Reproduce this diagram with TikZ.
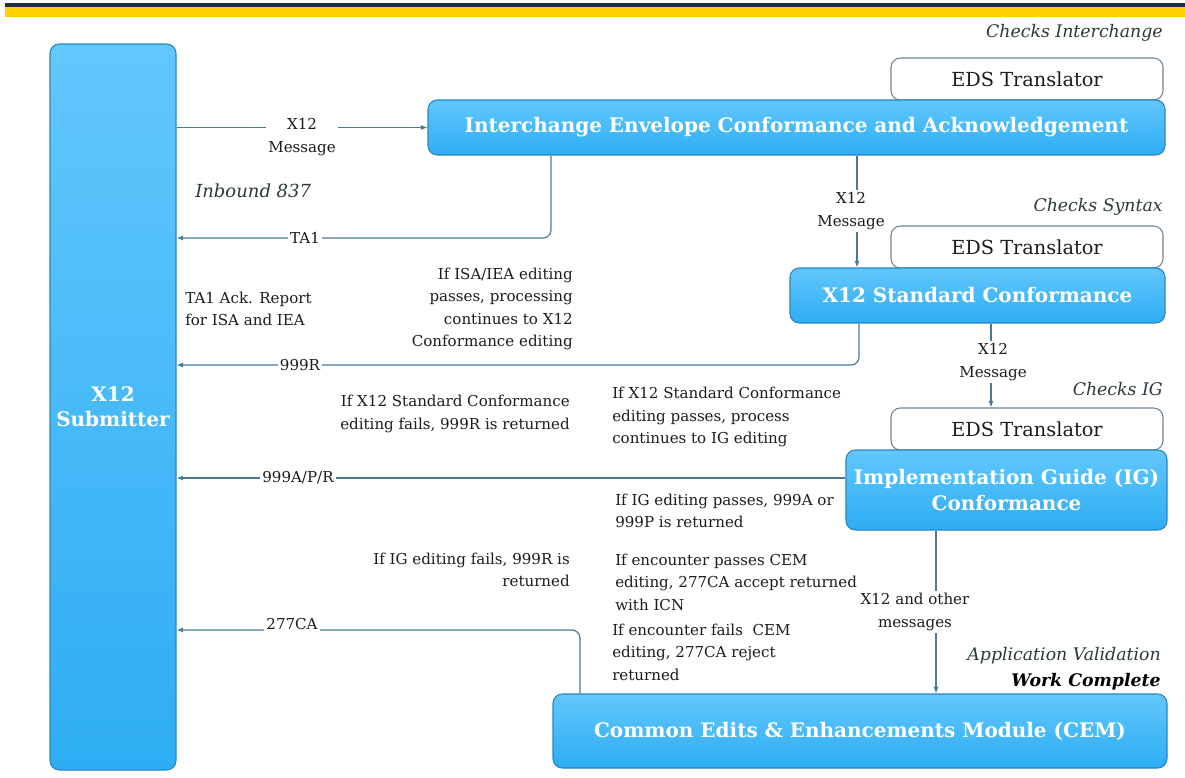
\documentclass[tikz,border=0pt]{standalone}
\usepackage{fontspec}
\setmainfont{DejaVu Serif}
\usetikzlibrary{arrows.meta}
\newlength\pxu \setlength\pxu{0.75pt}
\definecolor{navy}{HTML}{1F2E4A}
\definecolor{gold}{HTML}{FFD100}
\definecolor{boxtop}{HTML}{62C7FC}
\definecolor{boxbot}{HTML}{2EADF4}
\definecolor{boxline}{HTML}{2A86BF}
\definecolor{connc}{HTML}{4B7A99}
\definecolor{edsline}{HTML}{6F8596}
\definecolor{txtc}{HTML}{1C1C1C}
\definecolor{italc}{HTML}{2A3A33}
\tikzset{
  bluebox/.style={draw=boxline, line width=0.8pt, rounded corners=7pt, top color=boxtop, bottom color=boxbot,
    text=white, font=\fontsize{15pt}{19pt}\selectfont\bfseries, align=center, inner sep=0pt},
  edsbox/.style={draw=edsline, line width=0.8pt, rounded corners=7pt, fill=white, text=txtc,
    font=\fontsize{14.5pt}{18pt}\selectfont, inner sep=0pt},
  conn/.style={draw=connc, line width=0.9pt, rounded corners=6pt},
  arr/.style={-{Latex[length=5pt,width=4pt]}},
  txt/.style={text=txtc, font=\fontsize{11.3pt}{16.9pt}\selectfont, inner sep=0pt},
  lab/.style={txt, fill=white, inner sep=1.5pt, align=center},
  ital/.style={text=italc, font=\fontsize{13pt}{16pt}\selectfont\itshape, inner sep=0pt},
}
\begin{document}
\begin{tikzpicture}[x=0.75pt,y=-0.75pt]
\useasboundingbox (0,0) rectangle (1185,778);
% top bars
\fill[navy] (5,3) rectangle (1185,7);
\fill[gold] (5,7) rectangle (1185,17);

% translator boxes (behind)
\node[edsbox, minimum width=272\pxu, minimum height=42\pxu] (eds1) at (1027,79) {EDS Translator};
\node[edsbox, minimum width=272\pxu, minimum height=42\pxu] (eds2) at (1027,247) {EDS Translator};
\node[edsbox, minimum width=272\pxu, minimum height=42\pxu] (eds3) at (1027,429) {EDS Translator};

% blue boxes
\node[bluebox, minimum width=126\pxu, minimum height=726\pxu] (sub) at (113,407) {X12\\Submitter};
\node[bluebox, minimum width=737\pxu, minimum height=55\pxu] (ie) at (796.5,127.5) {Interchange Envelope Conformance and Acknowledgement};
\node[bluebox, minimum width=375\pxu, minimum height=55\pxu] (std) at (977.5,295.5) {X12 Standard Conformance};
\node[bluebox, minimum width=321\pxu, minimum height=80\pxu] (ig) at (1006.5,490) {Implementation Guide (IG)\\Conformance};
\node[bluebox, minimum width=614\pxu, minimum height=74\pxu] (cem) at (860,731) {Common Edits \& Enhancements Module (CEM)};

% italic headings
\node[ital, anchor=east] (h1) at (1163,33) {Checks Interchange};
\node[ital, anchor=east] (h2) at (1163,207) {Checks Syntax};
\node[ital, anchor=east] (h3) at (1163,389) {Checks IG};
\node[ital, anchor=east] (h4) at (1161,656) {Application Validation};
\node[ital, anchor=east, font=\fontsize{13pt}{16pt}\selectfont\itshape\bfseries, text=black] (h5) at (1161,682) {Work Complete};
\node[ital, anchor=west, font=\fontsize{13.5pt}{16pt}\selectfont\itshape] (inb) at (195,191) {Inbound 837};

% connector coordinates
\coordinate (cta1) at (551,238);
\coordinate (c999r) at (859,365);
\coordinate (cig) at (0,478);
\coordinate (c277) at (580,630);
\coordinate (v1) at (857,0);
\coordinate (v2) at (991,0);
\coordinate (v3) at (936,0);

% connectors
\draw[conn,arr] (sub.east |- ie.west) -- (ie.west);
\node[lab] (l1) at (302,137) {X12\\Message};

\draw[conn,arr] (ie.south -| cta1) -- (cta1) -- (sub.east |- cta1);
\node[lab] (l2) at (305,238) {TA1};

\draw[conn,arr] (ie.south -| v1) -- (std.north -| v1);
\node[lab] (l3) at (851,211) {X12\\Message};

\draw[conn,arr] (std.south -| c999r) -- (c999r) -- (sub.east |- c999r);
\node[lab] (l4) at (300,365) {999R};

\draw[conn,arr] (std.south -| v2) -- (eds3.north -| v2);
\node[lab] (l5) at (993,362) {X12\\Message};

\draw[conn,arr] (ig.west |- cig) -- (sub.east |- cig);
\node[lab] (l6) at (298,478) {999A/P/R};

\draw[conn,arr] (ig.south -| v3) -- (cem.north -| v3);
\node[lab] (l7) at (915,612) {X12 and other\\messages};

\draw[conn,arr] (cem.north -| c277) -- (c277) -- (sub.east |- c277);
\node[lab, anchor=south, fill=white, inner ysep=0.5pt] (l8) at (292,631) {277CA};

% annotation texts
\node[txt, anchor=west, align=left] (t1) at (185,309) {TA1 Ack. Report\\for ISA and IEA};
\node[txt, anchor=east, align=right] (t2) at (573,309) {If ISA/IEA editing\\passes, processing\\continues to X12\\Conformance editing};
\node[txt, anchor=east, align=right] (t3) at (570,414) {If X12 Standard Conformance\\editing fails, 999R is returned};
\node[txt, anchor=west, align=left] (t4) at (612,417) {If X12 Standard Conformance\\editing passes, process\\continues to IG editing};
\node[txt, anchor=west, align=left] (t5) at (615,511) {If IG editing passes, 999A or\\999P is returned};
\node[txt, anchor=east, align=right] (t6) at (570,570) {If IG editing fails, 999R is\\returned};
\node[txt, anchor=west, align=left] (t7) at (615,582) {If encounter passes CEM\\editing, 277CA accept returned\\with ICN};
\node[txt, anchor=west, align=left] (t8) at (612,652) {If encounter fails\ \ CEM\\editing, 277CA reject\\returned};
\end{tikzpicture}
\end{document}
